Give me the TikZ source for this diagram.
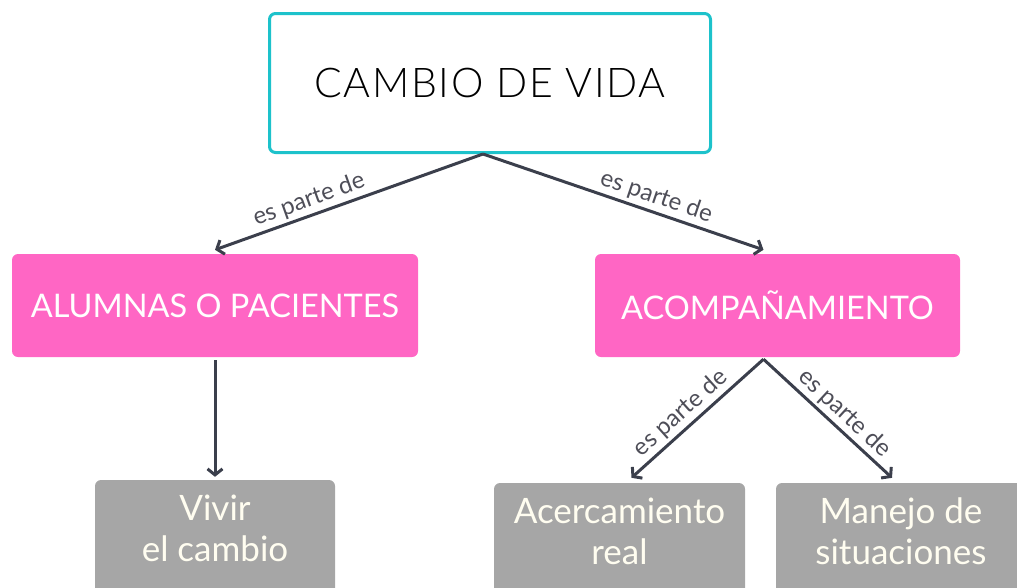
\documentclass[tikz,border=0pt]{standalone}
\usepackage{fontspec}
\setmainfont{Lato}
\newfontfamily\latolight[LetterSpace=4]{Lato Light}
\usetikzlibrary{arrows.meta}
\definecolor{cyanb}{HTML}{1DC2CB}
\definecolor{pinkb}{HTML}{FF66C4}
\definecolor{grayb}{HTML}{A6A6A6}
\definecolor{arrowc}{HTML}{3B3F4C}
\definecolor{labc}{HTML}{4E4E58}
\definecolor{cream}{HTML}{FFFDF0}
\tikzset{
  topbox/.style={draw=cyanb, line width=3pt, rounded corners=6pt, fill=white,
    minimum width=441pt, minimum height=139pt, inner sep=0pt,
    font=\latolight\fontsize{41}{46}\selectfont, text=black},
  pinkbox/.style={fill=pinkb, rounded corners=6pt, minimum height=103pt, inner sep=0pt,
    text=white, font=\fontsize{32.5}{36}\selectfont},
  graybox/.style={fill=grayb, rounded corners=6pt, minimum height=130pt, inner sep=0pt},
  graytext/.style={text=cream, align=center, font=\fontsize{35}{41}\selectfont, inner sep=0pt},
  conn/.style={draw=arrowc, line width=3pt, -{Straight Barb[length=6pt,width=15pt,line width=3pt]}},
  lab/.style={text=labc, font=\fontsize{24}{26}\selectfont, sloped, above, inner sep=3pt}
}
\begin{document}
\begin{tikzpicture}[x=1pt,y=-1pt]
\useasboundingbox (0,0) rectangle (1017,587);
\clip (0,0) rectangle (1017,587);
\node[topbox] (top) at (490,83) {CAMBIO DE VIDA};
\node[pinkbox, minimum width=406pt] (alum) at (215,305.5) {ALUMNAS O PACIENTES};
\node[pinkbox, minimum width=365pt] (acomp) at (777.5,305.5) {ACOMPAÑAMIENTO};
\node[graybox, minimum width=240pt] (vivir) at (215,545) {};
\node[graybox, minimum width=251pt] (acer) at (619.5,548) {};
\node[graybox, minimum width=250pt] (manejo) at (901,548) {};
\node[graytext, anchor=north] (vivirt) at ([yshift=-15]vivir.north) {Vivir\\el cambio};
\node[graytext, anchor=north] (acert) at ([yshift=-15]acer.north) {Acercamiento\\real};
\node[graytext, anchor=north] (manejot) at ([yshift=-15]manejo.north) {Manejo de\\situaciones};
\draw[conn] ([xshift=-7pt]top.south) -- node[lab, pos=0.63] {es parte de} ([yshift=4pt]alum.north);
\draw[conn] ([xshift=-7pt]top.south) -- node[lab, pos=0.6] {es parte de} ([xshift=-14pt,yshift=4pt]acomp.north);
\draw[conn] ([yshift=-3pt]alum.south) -- ([yshift=3pt]vivir.north);
\draw[conn] ([xshift=-14pt,yshift=-2pt]acomp.south) -- node[lab, pos=0.55] {es parte de} ([xshift=12pt,yshift=5pt]acer.north);
\draw[conn] ([xshift=-14pt,yshift=-2pt]acomp.south) -- node[lab, pos=0.55] {es parte de} ([xshift=-9pt,yshift=5pt]manejo.north);
\end{tikzpicture}
\end{document}
